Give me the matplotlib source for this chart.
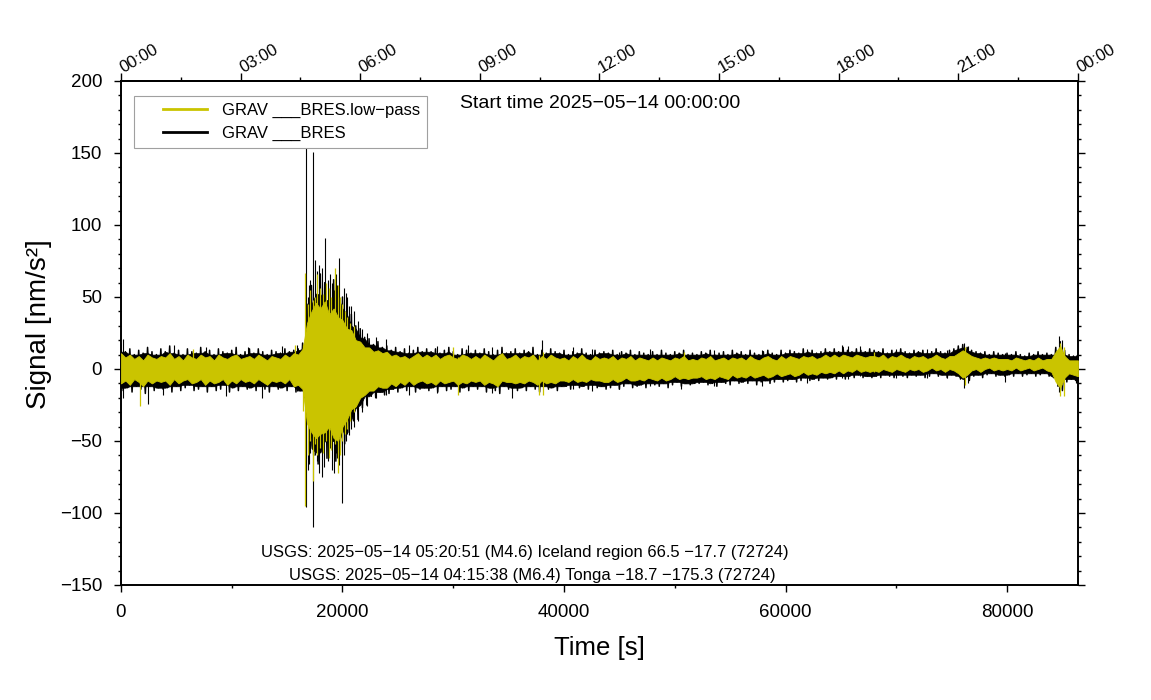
import numpy as np
import matplotlib
matplotlib.use('Agg')
import matplotlib.pyplot as plt
from matplotlib.ticker import MultipleLocator, FixedLocator
from matplotlib.lines import Line2D
from matplotlib.legend_handler import HandlerLine2D
from matplotlib.transforms import ScaledTranslation

plt.rcParams['font.family'] = ['Liberation Sans', 'DejaVu Sans']
plt.rcParams['axes.unicode_minus'] = True

# ---------------- data ----------------
knot_step = 400                      # seconds between envelope knots
times = np.arange(0, 86401, knot_step)

# raw trace (black): upper peak / lower trough per knot
raw_up = [
    17, 12, 14, 10, 13, 11, 15, 12, 10, 14,
    12, 16, 11, 13, 10, 14, 12, 11, 15, 12,
    13, 10, 14, 12, 11, 13, 15, 10, 12, 14,
    11, 14, 12, 10, 13, 12, 11, 14, 12, 13,
    14, 18, 45, 58, 52, 66, 60, 48, 62, 56,
    50, 42, 38, 30, 28, 22, 21, 17, 19, 15,
    16, 13, 15, 12, 14, 11, 13, 15, 12, 14,
    12, 14, 11, 13, 15, 12, 10, 14, 13, 11,
    13, 11, 14, 12, 10, 13, 15, 11, 12, 14,
    11, 13, 12, 15, 10, 13, 11, 14, 12, 11,
    13, 10, 12, 11, 14, 11, 10, 13, 11, 12,
    11, 13, 10, 12, 11, 13, 10, 12, 11, 10,
    12, 10, 13, 11, 10, 12, 11, 13, 10, 11,
    10, 12, 11, 13, 10, 11, 12, 10, 13, 11,
    12, 10, 13, 11, 10, 12, 13, 11, 10, 13,
    11, 13, 12, 11, 14, 12, 13, 11, 12, 14,
    12, 14, 12, 15, 13, 12, 14, 13, 12, 14,
    13, 12, 14, 11, 13, 12, 14, 12, 11, 13,
    12, 13, 11, 12, 14, 12, 11, 13, 14, 16,
    17, 15, 13, 12, 11, 12, 10, 12, 11, 10,
    11, 10, 12, 10, 9, 11, 10, 12, 10, 11,
    10, 15, 19, 13, 10, 9, 10,
]
raw_lo = [
    -15, -13, -16, -12, -14, -17, -12, -15, -13, -14,
    -13, -16, -12, -15, -13, -11, -15, -14, -12, -16,
    -12, -15, -14, -11, -16, -13, -15, -12, -14, -13,
    -15, -12, -14, -16, -12, -14, -13, -15, -12, -16,
    -15, -20, -55, -60, -66, -58, -62, -50, -64, -58,
    -52, -44, -36, -35, -27, -25, -19, -20, -16, -18,
    -17, -14, -16, -13, -15, -12, -16, -14, -13, -15,
    -13, -16, -12, -15, -14, -12, -16, -13, -15, -12,
    -14, -12, -16, -13, -15, -17, -12, -14, -13, -15,
    -13, -15, -12, -14, -16, -12, -14, -13, -15, -12,
    -12, -14, -11, -13, -12, -14, -11, -13, -12, -14,
    -13, -11, -14, -12, -10, -13, -12, -11, -13, -10,
    -11, -12, -10, -13, -11, -9, -12, -10, -11, -10,
    -10, -9, -11, -10, -12, -9, -10, -11, -8, -10,
    -9, -10, -8, -11, -9, -8, -10, -9, -7, -9,
    -8, -7, -9, -8, -6, -8, -7, -8, -6, -7,
    -6, -7, -5, -7, -5, -6, -4, -6, -5, -6,
    -5, -6, -4, -5, -6, -4, -5, -6, -4, -5,
    -4, -6, -5, -3, -5, -4, -6, -4, -5, -7,
    -10, -8, -5, -4, -6, -4, -3, -5, -4, -5,
    -4, -5, -3, -5, -4, -3, -5, -4, -3, -5,
    -6, -12, -15, -9, -7, -8, -9,
]

# low-pass trace (yellow): upper / lower envelope
lp_up = [
    11, 8, 10, 7, 9, 6, 10, 8, 7, 9,
    8, 11, 7, 9, 6, 10, 8, 7, 10, 8,
    9, 6, 10, 8, 7, 9, 10, 7, 8, 9,
    7, 10, 8, 6, 9, 8, 7, 10, 8, 11,
    10, 14, 32, 40, 46, 42, 47, 38, 42, 36,
    34, 28, 27, 20, 19, 15, 15, 12, 13, 11,
    12, 9, 10, 8, 9, 7, 9, 11, 8, 10,
    8, 10, 7, 9, 10, 8, 7, 10, 9, 7,
    9, 7, 10, 8, 6, 9, 11, 7, 8, 10,
    7, 9, 8, 10, 6, 9, 7, 10, 8, 7,
    8, 6, 9, 7, 10, 7, 6, 9, 7, 8,
    7, 9, 6, 8, 7, 9, 6, 8, 7, 6,
    8, 6, 8, 7, 6, 8, 7, 9, 6, 7,
    6, 8, 7, 9, 6, 7, 8, 6, 8, 7,
    8, 6, 9, 7, 6, 8, 9, 7, 6, 9,
    7, 9, 8, 7, 9, 8, 9, 7, 8, 10,
    8, 10, 8, 10, 9, 8, 10, 9, 8, 9,
    9, 8, 10, 7, 9, 8, 10, 8, 7, 9,
    8, 9, 7, 8, 10, 8, 7, 9, 9, 11,
    13, 11, 9, 8, 7, 8, 7, 8, 7, 7,
    7, 6, 8, 7, 6, 7, 6, 8, 6, 7,
    7, 12, 16, 9, 6, 6, 6,
]
lp_lo = [
    -10, -8, -11, -7, -9, -12, -8, -10, -8, -9,
    -8, -11, -7, -10, -8, -7, -10, -9, -7, -11,
    -8, -10, -9, -7, -11, -8, -10, -7, -9, -8,
    -10, -7, -9, -11, -8, -9, -8, -10, -7, -12,
    -11, -14, -38, -44, -48, -45, -44, -40, -48, -50,
    -40, -35, -28, -26, -20, -18, -15, -15, -12, -13,
    -13, -10, -12, -9, -11, -8, -11, -9, -8, -10,
    -9, -11, -8, -10, -9, -8, -11, -9, -10, -8,
    -9, -8, -11, -9, -10, -12, -8, -9, -9, -10,
    -9, -10, -8, -9, -11, -8, -10, -9, -10, -8,
    -8, -9, -7, -9, -8, -9, -7, -8, -8, -9,
    -9, -7, -9, -8, -6, -8, -8, -7, -8, -6,
    -7, -8, -6, -8, -7, -5, -7, -6, -7, -6,
    -6, -5, -7, -6, -7, -5, -6, -7, -4, -6,
    -5, -6, -4, -6, -5, -4, -6, -5, -3, -5,
    -4, -3, -5, -4, -2, -4, -3, -4, -2, -3,
    -2, -3, -1, -3, -1, -2, 0, -2, -1, -2,
    -1, -2, 0, -1, -2, 0, -1, -2, 0, -1,
    0, -2, -1, 1, -1, 0, -2, 0, -1, -3,
    -6, -4, -1, 0, -2, 0, 1, -1, 0, -1,
    0, -1, 1, -1, 0, 1, -1, 0, 1, -1,
    -2, -9, -13, -6, -3, -4, -5,
]

# isolated spikes of the raw trace: time, top, bottom
raw_spike_t = [200, 2450, 3800, 4800, 7700, 9500, 11500, 12700, 14500, 15900,
               16700, 17300, 17000, 17500, 17900, 18150, 18400, 18650, 19050,
               19400, 19700, 19950, 20300, 20600, 21000, 21400, 21800, 22200,
               23000, 23900, 26000, 28500, 31300, 33500, 35300, 38000, 40800,
               42500, 45000, 47800, 50600, 53500, 57900, 61900, 65100, 65600,
               66700, 70000, 72800, 74600, 76100, 76500, 79800, 84700, 85000,
               86200,
               16900, 17100, 17700, 18300, 18900, 19200, 19500, 20100, 20450,
               20800]
raw_spike_hi = [21, 5, 0, 17, 15, 0, 15, 0, 16, 17,
                154, 151, 58, 76, 72, 70, 91, 62, 60,
                66, 77, 30, 53, 44, 40, 33, 28, 25,
                22, 21, 17, 16, 17, 15, 10, 20, 15,
                14, 12, 14, 10, 13, 13, 14, 17, 16,
                16, 14, 14, 13, 18, 16, 11, 23, 20,
                10,
                50, 62, 68, 60, 66, 55, 58, 56, 50,
                44]
raw_spike_lo = [-20, -24, -18, 0, 0, -19, 0, -20, 0, -15,
                -96, -110, -66, -60, -72, -75, -40, -64, -70,
                -58, -67, -93, -50, -46, -40, -36, -30, -26,
                -20, -18, -18, -17, -10, -17, -20, -12, -14,
                -15, -14, -12, -14, -12, -12, -10, -6, -7,
                -5, -6, -6, -6, -13, -10, -9, -16, -14,
                -10,
                -70, -58, -64, -68, -55, -72, -62, -60, -45,
                -42]

# isolated spikes of the low-pass trace
lp_spike_t = [1700, 6500, 15700, 16400, 16650, 17300, 17700, 18200, 18800,
              19300, 19600, 20200, 20700, 30000, 30400, 37700, 38100, 50800,
              68000, 76200, 84800, 85100,
              16900, 17100, 17500, 18000, 18500, 19000, 19800, 20000, 20400,
              21000]
lp_spike_hi = [5, 14, 17, 17, 67, 48, 66, 52, 56,
               70, 58, 40, 32, 15, 8, 10, 12, 12,
               12, 15, 18, 15,
               45, 55, 50, 56, 60, 50, 50, 45, 36,
               30]
lp_spike_lo = [-26, -5, -12, -29, -95, -78, -60, -58, -62,
               -52, -72, -45, -36, -8, -18, -18, -18, -6,
               -2, -11, -19, -19,
               -60, -50, -52, -55, -50, -56, -60, -50, -42,
               -30]

xticks_bottom = [0, 20000, 40000, 60000, 80000]
top_tick_pos = [0, 10800, 21600, 32400, 43200, 54000, 64800, 75600, 86400]
top_tick_labels = ["00:00", "03:00", "06:00", "09:00", "12:00",
                   "15:00", "18:00", "21:00", "00:00"]
yticks = [-150, -100, -50, 0, 50, 100, 150, 200]

legend_labels = ["GRAV ___BRES.low\u2212pass", "GRAV ___BRES"]
start_text = "Start time 2025\u221205\u221214 00:00:00"
event_lines = [
    "USGS: 2025\u221205\u221214 05:20:51 (M4.6) Iceland region 66.5 \u221217.7 (72724)",
    "USGS: 2025\u221205\u221214 04:15:38 (M6.4) Tonga \u221218.7 \u2212175.3 (72724)",
]

assert len(raw_up) == len(times) == len(raw_lo) == len(lp_up) == len(lp_lo)
assert len(raw_spike_t) == len(raw_spike_hi) == len(raw_spike_lo)
assert len(lp_spike_t) == len(lp_spike_hi) == len(lp_spike_lo)

# ---------------- drawing ----------------
yellow = '#cac400'

fig = plt.figure(figsize=(11.51, 7.0), dpi=100)
ax = fig.add_axes([0.1051, 0.1643, 0.8314, 0.72])

# raw trace: solid base up to the valleys between neighbouring peaks,
# then the oscillation through every read peak and trough on top
up_arr = np.asarray(raw_up, float)
lo_arr = np.asarray(raw_lo, float)
base_up = np.minimum(up_arr, np.minimum(np.r_[up_arr[0], up_arr[:-1]],
                                        np.r_[up_arr[1:], up_arr[-1]]))
base_lo = np.maximum(lo_arr, np.maximum(np.r_[lo_arr[0], lo_arr[:-1]],
                                        np.r_[lo_arr[1:], lo_arr[-1]]))
ax.fill_between(times, base_lo, base_up, color='black', lw=0.5, zorder=2)
zig_t = np.column_stack([times, times + knot_step / 2]).ravel()
zig_v = np.column_stack([raw_up, raw_lo]).ravel()
ax.plot(zig_t, zig_v, color='black', lw=1.1, zorder=2)
ax.vlines(raw_spike_t, raw_spike_lo, raw_spike_hi, color='black', lw=0.8, zorder=2)

# low-pass trace: dense band plus spikes
ax.fill_between(times, lp_lo, lp_up, color=yellow, lw=0.6, zorder=3)
ax.vlines(lp_spike_t, lp_spike_lo, lp_spike_hi, color=yellow, lw=0.9, zorder=3)

ax.set_xlim(0, 86400)
ax.set_ylim(-150, 200)

ax.xaxis.set_major_locator(FixedLocator(xticks_bottom))
ax.xaxis.set_minor_locator(MultipleLocator(10000))
ax.yaxis.set_major_locator(FixedLocator(yticks))
ax.yaxis.set_minor_locator(MultipleLocator(10))

for s in ax.spines.values():
    s.set_linewidth(1.4)

ax.tick_params(which='both', direction='out', top=False, right=True,
               labelright=False, width=1.0, labelsize=13.5, pad=8.5)
ax.tick_params(which='major', length=5)
ax.tick_params(which='minor', length=2.5)

sec = ax.secondary_xaxis('top')
sec.set_xticks(top_tick_pos)
sec.set_xticklabels(top_tick_labels)
sec.xaxis.set_minor_locator(MultipleLocator(5400))
sec.spines['top'].set_linewidth(1.4)
sec.tick_params(which='both', direction='out', width=1.0, labelsize=12, pad=1)
sec.tick_params(which='major', length=6)
sec.tick_params(which='minor', length=3)
shift = ScaledTranslation(4 / 100, -4 / 100, fig.dpi_scale_trans)
for lab in sec.get_xticklabels():
    lab.set_rotation(30)
    lab.set_rotation_mode('anchor')
    lab.set_ha('left')
    lab.set_va('bottom')
    lab.set_transform(lab.get_transform() + shift)

ax.set_xlabel("Time [s]", fontsize=18.5)
ax.xaxis.set_label_coords(0.5, -0.101)
ax.set_ylabel("Signal [nm/s\u00b2]", fontsize=20)
ax.yaxis.set_label_coords(-0.0721, 0.518)


class OffsetLineHandler(HandlerLine2D):
    """Draw the legend line only in the right part of the handle box."""
    def get_xdata(self, legend, xdescent, ydescent, width, height, fontsize):
        x0 = -xdescent + 0.33 * width
        x1 = -xdescent + width
        return np.array([x0, x1]), np.array([(x0 + x1) / 2])


handles = [Line2D([0], [0], color=yellow, lw=2.0),
           Line2D([0], [0], color='black', lw=2.0)]
leg = ax.legend(handles, legend_labels, loc='upper left',
                bbox_to_anchor=(0.0136, 0.9702), fontsize=12, frameon=True,
                fancybox=False, edgecolor='#a0a0a0', framealpha=1.0,
                handlelength=4.0, handletextpad=0.9, borderpad=0.4,
                labelspacing=0.5, borderaxespad=0.0,
                handler_map={Line2D: OffsetLineHandler()})
leg.get_frame().set_linewidth(0.8)
leg.set_zorder(5)

ax.text(0.354, 0.955, start_text, transform=ax.transAxes, fontsize=14,
        ha='left', va='center', zorder=6)
ax.text(0.422, 0.0635, event_lines[0], transform=ax.transAxes, fontsize=12,
        ha='center', va='center', zorder=6)
ax.text(0.4295, 0.0198, event_lines[1], transform=ax.transAxes, fontsize=12,
        ha='center', va='center', zorder=6)

fig.savefig('out.png', dpi=100)
